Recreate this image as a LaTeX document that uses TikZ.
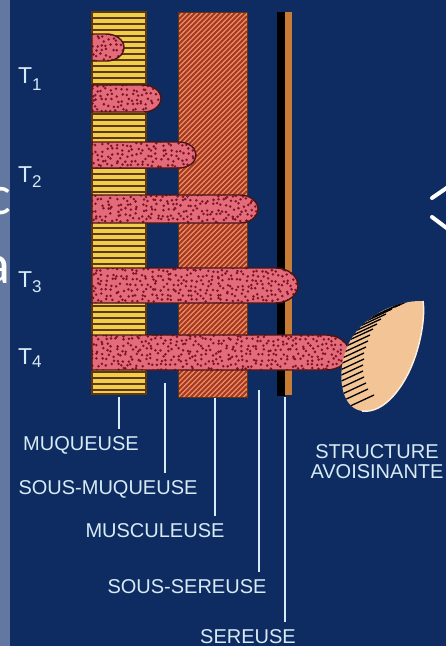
\documentclass[tikz,border=0pt]{standalone}
\usepackage{fontspec}
\setmainfont{Liberation Sans}
\newfontfamily\slidefont{Carlito}

% Colours of the wall layers
\definecolor{slideblue}{RGB}{14,44,98}
\definecolor{slidegrey}{RGB}{98,120,160}
\definecolor{mucosa}{RGB}{240,205,75}
\definecolor{mucosaline}{RGB}{95,55,15}
\definecolor{muscle}{RGB}{232,140,98}
\definecolor{muscleline}{RGB}{165,55,35}
\definecolor{tumour}{RGB}{228,108,122}
\definecolor{tumourdot}{RGB}{125,20,40}
\definecolor{tumourline}{RGB}{75,20,20}
\definecolor{serosa}{RGB}{200,125,55}
\definecolor{organ}{RGB}{242,196,150}
\definecolor{labeltext}{RGB}{215,235,245}

% One tumour finger: top, bottom, tip
\newcommand{\fingerpath}[3]{%
  (\mucLeft,#1) -- ({#3-0.65*(#2-#1)},#1)
  arc[start angle=-90, end angle=90, x radius={0.65*(#2-#1)}, y radius={0.5*(#2-#1)}]
  -- (\mucLeft,#2) -- cycle}

\begin{document}
\begin{tikzpicture}[x=1pt, y=-1pt,
    tumourfill/.style={fill=tumour},
    tumouredge/.style={draw=tumourline, line width=1.4pt},
    labelline/.style={draw=labeltext, line width=2pt},
    layername/.style={text=labeltext, anchor=base, inner sep=7pt, font=\fontsize{20}{22}\selectfont},
    tname/.style={text=labeltext, anchor=base west, inner sep=0pt, font=\fontsize{23}{25}\selectfont}]

    % Dimensions
    \def\wallTop{12}
    \def\mucLeft{92}      % mucosa
    \def\mucRight{146}
    \def\mucBottom{394}
    \def\musLeft{178}     % muscle layer
    \def\musRight{247}
    \def\musBottom{397}
    \def\fingers{34/61/124, 85/112/161, 142/168/196, 195/223/258, 268/303/298, 335/370/349}

    \useasboundingbox (0,0) rectangle (446,646);

    % Background
    \fill[slidegrey] (0,0) rectangle (446,646);
    \node[text=white, anchor=base east, inner sep=0pt, font=\slidefont\fontsize{56}{60}\selectfont] (c) at (11,214) {c};
    \node[text=white, anchor=base east, inner sep=0pt, font=\slidefont\fontsize{56}{60}\selectfont] (a) at (11,283) {a};
    \fill[slideblue] (10,0) rectangle (446,646);
    \draw[white, line width=4pt, line cap=round] (432,198) -- (448,187);
    \draw[white, line width=4pt, line cap=round] (432,217) -- (448,229);

    % Draw the serosa (black and tan band)
    \fill[black] (277,\wallTop) rectangle (285,396);
    \fill[serosa] (285,\wallTop) rectangle (292,395);

    % Draw the muscle layer with its hatching
    \fill[muscle] (\musLeft,\wallTop) rectangle (\musRight,\musBottom);
    \begin{scope}
        \clip (\musLeft,\wallTop) rectangle (\musRight,\musBottom);
        \foreach \k in {10,15,...,470}
            \draw[muscleline, line width=1.8pt] (\musLeft,\k) -- (\musRight,\k-69);
    \end{scope}
    \draw[mucosaline, line width=1pt] (\musLeft,\wallTop) rectangle (\musRight,\musBottom);

    % Draw the mucosa (striped)
    \fill[mucosa] (\mucLeft,\wallTop) rectangle (\mucRight,\mucBottom);
    \foreach \y in {18,24,...,390}
        \draw[mucosaline, line width=1.2pt] (\mucLeft,\y) -- (\mucRight,\y);
    \draw[mucosaline, line width=1.4pt] (\mucLeft,\wallTop) rectangle (\mucRight,\mucBottom);

    % Draw the tumour fingers T1 ... T4 (stippled)
    \foreach \ft/\fb/\fe in \fingers {
        \fill[tumourfill] \fingerpath{\ft}{\fb}{\fe};
    }
    \begin{scope}
        \clip \foreach \ft/\fb/\fe in \fingers {\fingerpath{\ft}{\fb}{\fe}};
        \pgfmathsetseed{11}
        \foreach \x in {92,97,...,352}
            \fill[tumourdot] \foreach \y in {30,35,...,372} {({\x+2*rand},{\y+2*rand}) circle (1.4)};
    \end{scope}
    \foreach \ft/\fb/\fe in \fingers {
        \draw[tumouredge] \fingerpath{\ft}{\fb}{\fe};
    }

    % Draw the neighbouring structure
    \def\organpath{(423,301) .. controls (395,300) and (360,318) .. (348,345)
        .. controls (336,372) and (340,408) .. (362,411)
        .. controls (385,414) and (405,385) .. (414,360)
        .. controls (422,338) and (425,315) .. (423,301)}
    \fill[organ] \organpath;
    \begin{scope}
        \clip \organpath;
        \foreach \y/\x in {304/401, 309/389, 314/378, 319/370, 324/364, 329/359, 334/355,
                           339/351, 345/348, 351/346, 357/344, 363/342, 369/342, 375/341,
                           381/341, 387/342, 393/344, 399/346, 405/352}
            \draw[black, line width=1.3pt] (\x-6,\y+3) -- (\x+22,\y-10);
    \end{scope}
    \draw[white!70!organ, line width=1.5pt] (362,411) .. controls (385,414) and (405,385) .. (414,360)
        .. controls (422,338) and (425,315) .. (423,301);

    % Stage labels
    \node[tname] (t1) at (18,83) {T\raisebox{-7pt}{\fontsize{17}{18}\selectfont 1}};
    \node[tname] (t2) at (18,182) {T\raisebox{-5pt}{\fontsize{17}{18}\selectfont 2}};
    \node[tname] (t3) at (18,287) {T\raisebox{-5pt}{\fontsize{17}{18}\selectfont 3}};
    \node[tname] (t4) at (18,364) {T\raisebox{-3pt}{\fontsize{17}{18}\selectfont 4}};

    % Layer names with leader lines
    \coordinate (muq-foot) at (119,397);
    \coordinate (smuq-foot) at (165,383);
    \coordinate (musc-foot) at (215,398);
    \coordinate (sser-foot) at (259,390);
    \coordinate (ser-foot) at (285,397);

    \node[layername] (muq) at (81,450) {MUQUEUSE};
    \node[layername] (smuq) at (108,494) {SOUS-MUQUEUSE};
    \node[layername] (musc) at (155,537) {MUSCULEUSE};
    \node[layername] (sser) at (187,593) {SOUS-SEREUSE};
    \node[layername, inner sep=1pt] (ser) at (248,643) {SEREUSE};

    \draw[labelline] (muq-foot) -- (muq-foot |- muq.north);
    \draw[labelline] (smuq-foot) -- (smuq-foot |- smuq.north);
    \draw[labelline] (musc-foot) -- (musc-foot |- musc.north);
    \draw[labelline] (sser-foot) -- (sser-foot |- sser.north);
    \draw[labelline, shorten >=6pt] (ser-foot) -- (ser-foot |- ser.north);

    \node[layername] (structure) at (377,458) {STRUCTURE};
    \node[layername] (avoisinante) at (377,478) {AVOISINANTE};

\end{tikzpicture}
\end{document}
